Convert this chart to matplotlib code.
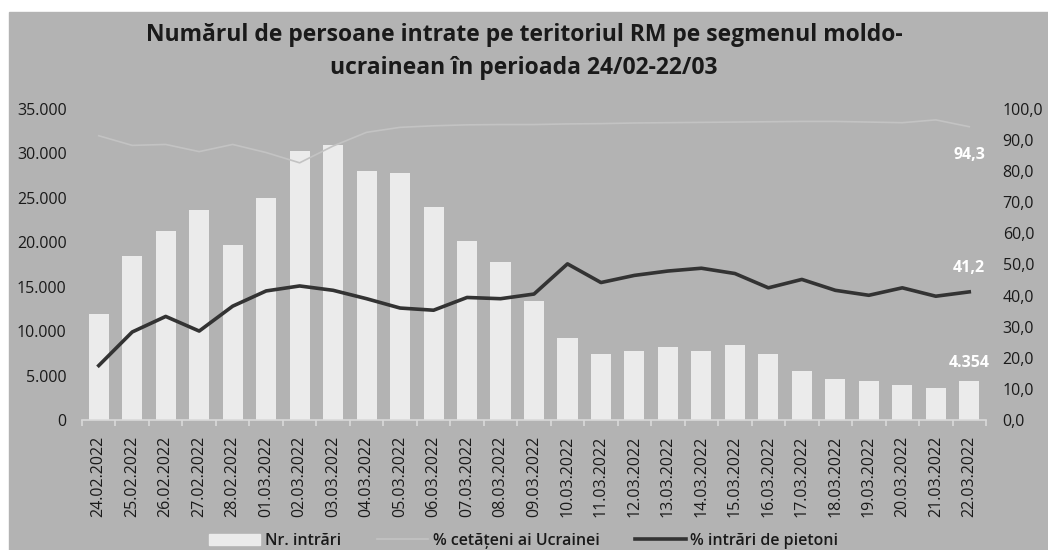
import matplotlib.pyplot as plt
import matplotlib.patches as mpatches
from matplotlib.ticker import FuncFormatter, MultipleLocator
import numpy as np

plt.rcParams['font.family'] = ['Open Sans', 'DejaVu Sans']

dates = ["24.02.2022", "25.02.2022", "26.02.2022", "27.02.2022", "28.02.2022",
         "01.03.2022", "02.03.2022", "03.03.2022", "04.03.2022", "05.03.2022",
         "06.03.2022", "07.03.2022", "08.03.2022", "09.03.2022", "10.03.2022",
         "11.03.2022", "12.03.2022", "13.03.2022", "14.03.2022", "15.03.2022",
         "16.03.2022", "17.03.2022", "18.03.2022", "19.03.2022", "20.03.2022",
         "21.03.2022", "22.03.2022"]

# Nr. intrari (left axis)
entries = [11900, 18500, 21250, 23600, 19750, 25000, 30300, 30900, 28000, 27850,
           23950, 20200, 17750, 13350, 9250, 7400, 7750, 8200, 7750, 8400,
           7400, 5500, 4650, 4380, 3920, 3600, 4354]

# % cetateni ai Ucrainei (right axis)
pct_ukr = [91.4, 88.3, 88.6, 86.3, 88.6, 86.0, 82.7, 88.1, 92.5, 94.1,
           94.6, 94.9, 95.0, 95.0, 95.2, 95.3, 95.5, 95.6, 95.7, 95.8,
           95.9, 96.0, 96.0, 95.8, 95.6, 96.5, 94.3]

# % intrari de pietoni (right axis)
pct_walk = [17.5, 28.3, 33.3, 28.6, 36.6, 41.5, 43.1, 41.7, 39.0, 36.0,
            35.3, 39.4, 39.0, 40.5, 50.2, 44.2, 46.5, 47.9, 48.8, 47.1,
            42.5, 45.2, 41.7, 40.1, 42.5, 39.8, 41.2]

bg = "#b3b3b3"
bar_col = "#ebebeb"
ukr_col = "#c3c3c3"
text_col = "#1a1a1a"

fig = plt.figure(figsize=(10.48, 5.5), dpi=100, facecolor="white")
fig.patches.append(mpatches.Rectangle((9 / 1048, 0), 1, 1 - 12 / 550,
                                      transform=fig.transFigure, color=bg, zorder=-5))

ax = fig.add_axes([82 / 1048, 1 - 420 / 550, 904 / 1048, 311 / 550])
ax.patch.set_alpha(0)
ax2 = ax.twinx()
ax2.patch.set_alpha(0)

x = np.arange(len(dates))
ax.bar(x, entries, width=0.6, color=bar_col, zorder=2)
ax.set_xlim(-0.5, len(dates) - 0.5)
ax.set_ylim(0, 35000)
ax.yaxis.set_major_locator(MultipleLocator(5000))
ax.yaxis.set_major_formatter(FuncFormatter(lambda v, p: f"{int(v):,}".replace(",", ".")))

ax2.plot(x, pct_ukr, color=ukr_col, lw=1.2, zorder=3)
ax2.plot(x, pct_walk, color="#333333", lw=2.6, zorder=4)
ax2.set_ylim(0, 100)
ax2.yaxis.set_major_locator(MultipleLocator(10))
ax2.yaxis.set_major_formatter(FuncFormatter(lambda v, p: f"{v:.1f}".replace(".", ",")))

for a in (ax, ax2):
    for s in a.spines.values():
        s.set_visible(False)
    a.tick_params(axis="y", length=0, labelsize=11.5, labelcolor=text_col)

ax.spines["bottom"].set_visible(True)
ax.spines["bottom"].set_color("#d9d9d9")
ax.spines["bottom"].set_linewidth(1.2)
ax.set_xticks(x)
ax.set_xticklabels(dates, rotation=90, fontsize=11.5, color=text_col)
ax.set_xticks(np.arange(len(dates) + 1) - 0.5, minor=True)
ax.tick_params(axis="x", which="major", length=0, pad=11)
ax.tick_params(axis="x", which="minor", length=4, color="#d9d9d9", width=1.2)
ax.tick_params(axis="y", pad=11)
ax2.tick_params(axis="y", pad=12)

# data labels on last point
last = len(dates) - 1
ax2.annotate(f"{pct_ukr[-1]:.1f}".replace(".", ","), (last, pct_ukr[-1]),
             xytext=(0, -28), textcoords="offset pixels", ha="center", va="center",
             color="white", fontsize=11.5, fontweight="bold")
ax2.annotate(f"{pct_walk[-1]:.1f}".replace(".", ","), (last, pct_walk[-1]),
             xytext=(0, 24), textcoords="offset pixels", ha="center", va="center",
             color="white", fontsize=11.5, fontweight="bold")
ax.annotate(f"{entries[-1]:,}".replace(",", "."), (last, entries[-1]),
            xytext=(0, 18), textcoords="offset pixels", ha="center", va="center",
            color="white", fontsize=11.5, fontweight="bold")

fig.text(0.5, 1 - 35 / 550, "Numărul de persoane intrate pe teritoriul RM pe segmenul moldo-",
         ha="center", va="center", fontsize=16.5, fontweight="bold", color=text_col)
fig.text(0.5, 1 - 68 / 550, "ucrainean în perioada 24/02-22/03",
         ha="center", va="center", fontsize=16.5, fontweight="bold", color=text_col)

handles = [mpatches.Patch(color=bar_col, label="Nr. intrări"),
           plt.Line2D([], [], color=ukr_col, lw=1.2, label="% cetățeni ai Ucrainei"),
           plt.Line2D([], [], color="#333333", lw=2.6, label="% intrări de pietoni")]
leg = fig.legend(handles=handles, loc="center", bbox_to_anchor=(0.5, 1 - 541 / 550),
                 ncol=3, frameon=False, fontsize=11.5, handlelength=3.2,
                 columnspacing=2.2, handletextpad=0.3)
for t in leg.get_texts():
    t.set_color(text_col)
    t.set_fontweight("semibold")

fig.savefig("out.png", dpi=100, facecolor="white")
